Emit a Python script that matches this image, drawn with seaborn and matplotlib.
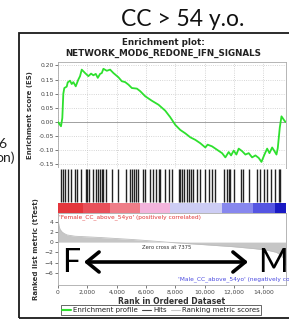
import numpy as np
import matplotlib
matplotlib.use("Agg")
import matplotlib.pyplot as plt
from matplotlib.lines import Line2D
from matplotlib.patches import Rectangle
from matplotlib.ticker import FuncFormatter
import seaborn as sns

sns.set_style("white")
plt.rcParams['font.family'] = ['DejaVu Sans']

# ---------------- data ----------------
slide_title = "CC > 54 y.o."
plot_title = "Enrichment plot:\nNETWORK_MOD6_REDONE_IFN_SIGNALS"
n_genes = 15500
zero_cross = 7375

es_rank = [0, 205, 294, 362, 430, 594, 662, 819, 935, 1045, 1209, 1386, 1502, 1618,
           1844, 2069, 2253, 2410, 2574, 2711, 2868, 2984, 3093, 3325, 3551, 3776,
           4117, 4349, 4575, 4800, 5032, 5374, 5599, 5940, 6398, 6848, 7306, 7647,
           7989, 8330, 8672, 9013, 9354, 9696, 10037, 10194, 10495, 10836, 11178,
           11403, 11628, 11792, 11969, 12154, 12311, 12543, 12768, 12994, 13226,
           13451, 13676, 13861, 14066, 14250, 14407, 14591, 14748, 14885, 14974,
           15110, 15226, 15384, 15500]
es_value = [0.0, -0.015, 0.014, 0.10, 0.12, 0.125, 0.14, 0.146, 0.134, 0.141, 0.126,
            0.15, 0.162, 0.185, 0.173, 0.162, 0.171, 0.165, 0.17, 0.156, 0.17, 0.173,
            0.188, 0.181, 0.185, 0.173, 0.158, 0.144, 0.141, 0.132, 0.12, 0.118, 0.109,
            0.091, 0.075, 0.061, 0.04, 0.017, -0.01, -0.028, -0.04, -0.054, -0.063,
            -0.075, -0.09, -0.08, -0.086, -0.098, -0.11, -0.125, -0.106, -0.118,
            -0.101, -0.115, -0.094, -0.103, -0.115, -0.11, -0.125, -0.118, -0.127,
            -0.141, -0.115, -0.094, -0.11, -0.09, -0.103, -0.115, -0.092, -0.02,
            0.02, 0.008, 0.0]

hit_rank = [205, 362, 498, 703, 888, 1161, 1318, 1570, 1912, 2001, 2137, 2410, 2595,
            2752, 2868, 3004, 3093, 3277, 3667, 4117, 4643, 4916, 5073, 5209, 5346,
            5483, 5824, 5940, 6281, 6466, 6671, 6848, 6964, 7305, 7530, 7763, 8214,
            8330, 8446, 8603, 8788, 8897, 9032, 9197, 9471, 9648, 10037, 10262, 10495,
            10720, 11334, 11519, 11628, 11744, 11969, 12475, 12611, 12994, 13567,
            13745, 14018, 14250, 14523, 14817, 15042, 15158]

metric_rank = [0, 68, 137, 273, 410, 614, 1161, 2868, 5121, 6281, 7375, 9696, 11949,
               13451, 14271, 14885, 15158, 15363, 15500]
metric_value = [4.4, 3.2, 2.5, 2.0, 1.7, 1.4, 1.15, 0.9, 0.5, 0.25, 0.0, -0.45, -0.9,
                -1.3, -1.6, -2.0, -2.5, -3.2, -4.5]

band_edges = [0, 1700, 3550, 5600, 7650, 11200, 13300, 14800, 15500]
band_colors = ['#e4363c', '#e8505a', '#ef7d88', '#f3b4dc', '#cdcdf4', '#8787ee',
               '#5555e2', '#1a1ac4']

x_ticks = [0, 2000, 4000, 6000, 8000, 10000, 12000, 14000]
es_ticks = [-0.15, -0.10, -0.05, 0.00, 0.05, 0.10, 0.15, 0.20]
metric_ticks = [-6, -4, -2, 0, 2, 4]

pos_label = "'Female_CC_above_54yo' (positively correlated)"
neg_label = "'Male_CC_above_54yo' (negatively correlated)"

# ---------------- layout helpers ----------------
W, H = 289, 321
fig = plt.figure(figsize=(W / 100, H / 100), dpi=100)
fig.patch.set_facecolor('white')


def rect(l, t, r, b):
    return [l / W, 1 - b / H, (r - l) / W, (b - t) / H]


def fx(x):
    return x / W


def fy(y):
    return 1 - y / H


GREEN = '#2ee02e'
TICK_FS = 4.3
LAB_FS = 5.0

# frame of the embedded GSEA picture
fig.patches.append(Rectangle((fx(19), fy(318)), fx(300) - fx(19), fy(33) - fy(318),
                             transform=fig.transFigure, fill=False, edgecolor='#1a1a1a',
                             lw=1.3, clip_on=False))

# slide title
fig.text(fx(183), fy(20), slide_title, ha='center', va='center', fontsize=16.5,
         family=['Lato', 'DejaVu Sans'], color='#111111')
# clipped slide text at left
fig.text(fx(6), fy(144), "6", ha='right', va='center', fontsize=10,
         family=['Lato', 'DejaVu Sans'], color='#222222')
fig.text(fx(15), fy(158), "on)", ha='right', va='center', fontsize=10,
         family=['Lato', 'DejaVu Sans'], color='#222222')

# inner title
fig.text(fx(163), fy(48), plot_title, ha='center', va='center', fontsize=6.3,
         fontweight='bold', color='#222222', linespacing=1.15)

# ---------------- ES panel ----------------
ax_es = fig.add_axes(rect(58, 62, 285.5, 168))
ax_es.set_xlim(0, n_genes)
ax_es.set_ylim(-0.1625, 0.212)
ax_es.set_xticks(x_ticks)
ax_es.set_yticks(es_ticks)
ax_es.set_yticklabels([f"{v:.2f}" for v in es_ticks])
ax_es.tick_params(axis='x', length=0, labelbottom=False)
ax_es.tick_params(axis='y', labelsize=TICK_FS, length=2, width=0.5, pad=1,
                  colors='#444444', left=True)
ax_es.grid(True, ls=':', color='#c8c8c8', lw=0.6)
ax_es.axhline(0, color='#a0a0a0', lw=0.7, zorder=1)
sns.lineplot(x=es_rank, y=es_value, ax=ax_es, color=GREEN, lw=1.3, zorder=3)
ax_es.set_ylabel("Enrichment score (ES)", fontsize=LAB_FS, fontweight='bold',
                 color='#333333', labelpad=4)
for s in ax_es.spines.values():
    s.set_color('#aaaaaa')
    s.set_linewidth(0.6)

# ---------------- hits panel ----------------
ax_hits = fig.add_axes(rect(58, 168, 285.5, 203))
ax_hits.set_xlim(0, n_genes)
ax_hits.set_ylim(0, 1)
ax_hits.vlines(hit_rank, 0.03, 0.97, color='#222222', lw=1.0)
ax_hits.set_xticks([])
ax_hits.set_yticks([])
for s in ax_hits.spines.values():
    s.set_visible(False)

# ---------------- colour bar ----------------
ax_bar = fig.add_axes(rect(58, 203, 285.5, 213))
ax_bar.set_xlim(0, n_genes)
ax_bar.set_ylim(0, 1)
for i, c in enumerate(band_colors):
    ax_bar.axvspan(band_edges[i], band_edges[i + 1], color=c, lw=0)
ax_bar.set_xticks([])
ax_bar.set_yticks([])
for s in ax_bar.spines.values():
    s.set_visible(False)

# ---------------- ranked list panel ----------------
ax_rk = fig.add_axes(rect(58, 213, 285.5, 285))
ax_rk.set_xlim(0, n_genes)
ax_rk.set_ylim(-8.4, 5.7)
ax_rk.fill_between(metric_rank, metric_value, 0, color='#c6c6c6', lw=0)
sns.lineplot(x=metric_rank, y=metric_value, ax=ax_rk, color='#bdbdbd', lw=0.6)
ax_rk.set_xticks(x_ticks)
ax_rk.xaxis.set_major_formatter(FuncFormatter(lambda v, p: f"{int(v):,}"))
ax_rk.set_yticks(metric_ticks)
ax_rk.tick_params(axis='both', labelsize=TICK_FS, length=2, width=0.5, pad=1.5,
                  colors='#444444', left=True, bottom=True)
ax_rk.set_xlabel("Rank in Ordered Dataset", fontsize=LAB_FS + 0.5, fontweight='bold',
                 color='#333333', labelpad=1.5)
ax_rk.set_ylabel("Ranked list metric (tTest)", fontsize=LAB_FS, fontweight='bold',
                 color='#333333', labelpad=4)
for s in ax_rk.spines.values():
    s.set_color('#aaaaaa')
    s.set_linewidth(0.6)
ax_rk.text(0.004, 0.985, pos_label, transform=ax_rk.transAxes, ha='left', va='top',
           fontsize=4.2, color='#e03838')
ax_rk.text(zero_cross, -1.0, f"Zero cross at {zero_cross}", ha='center', va='center',
           fontsize=3.8, color='#333333')
fig.text(fx(178), fy(279), neg_label, ha='left', va='center', fontsize=4.2,
         color='#4a4ae0')

# ---------------- F <-> M overlay ----------------
fig.text(fx(71), fy(263), "F", ha='center', va='center', fontsize=23,
         family=['Lato', 'DejaVu Sans'], color='black')
fig.text(fx(273), fy(263), "M", ha='center', va='center', fontsize=23,
         family=['Lato', 'DejaVu Sans'], color='black')
ax_rk.annotate('', xy=(fx(248), fy(262)), xytext=(fx(84), fy(262)),
               xycoords='figure fraction', textcoords='figure fraction',
               arrowprops=dict(arrowstyle='<->,head_length=0.55,head_width=0.45',
                               lw=2.6, color='black', mutation_scale=16,
                               shrinkA=0, shrinkB=0), annotation_clip=False)

# ---------------- legend ----------------
handles = [Line2D([], [], color=GREEN, lw=1.5),
           Line2D([], [], color='#444444', lw=0.8),
           Line2D([], [], color='#c6c6c6', lw=0.8)]
labels = ["Enrichment profile", "Hits", "Ranking metric scores"]
leg = fig.legend(handles, labels, loc='center', bbox_to_anchor=(fx(161), fy(310)),
                 ncol=3, fontsize=5.0, frameon=True, fancybox=False,
                 handlelength=1.2, handletextpad=0.3, columnspacing=0.7,
                 borderpad=0.25, borderaxespad=0)
leg.get_frame().set_edgecolor('#222222')
leg.get_frame().set_linewidth(0.6)
for t in leg.get_texts():
    t.set_color('#222222')

fig.savefig("out.png", dpi=100, facecolor='white')
